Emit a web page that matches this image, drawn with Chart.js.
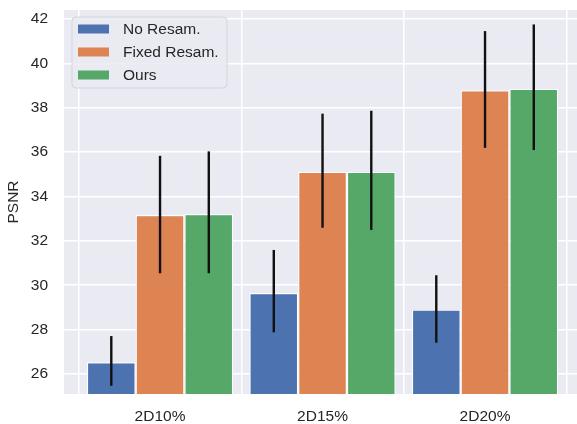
<!DOCTYPE html>
<html>
<head>
<meta charset="utf-8">
<style>
  html, body { margin: 0; padding: 0; background: #ffffff; }
  canvas { display: block; }
</style>
<script src="https://cdn.jsdelivr.net/npm/chart.js@4/dist/chart.umd.min.js"></script>
</head>
<body>
<canvas id="chart" width="577" height="424"></canvas>
<script>
// Categories along the x axis
const categories = ['2D10%', '2D15%', '2D20%'];

// Series names and colours
const seriesNames = ['No Resam.', 'Fixed Resam.', 'Ours'];
const seriesColors = ['#4C72B0', '#DD8452', '#55A868'];

// Mean PSNR per category
const noResamMean = [26.53, 29.65, 28.90];
const fixedResamMean = [33.16, 35.11, 38.78];
const oursMean = [33.21, 35.11, 38.85];

// Error bar extents (lower / upper)
const noResamLow = [25.47, 27.88, 27.41];
const noResamHigh = [27.71, 31.59, 30.45];
const fixedResamLow = [30.54, 32.59, 36.19];
const fixedResamHigh = [35.83, 37.73, 41.45];
const oursLow = [30.54, 32.49, 36.09];
const oursHigh = [36.03, 37.86, 41.75];

// Y tick values
const yTicks = [26, 28, 30, 32, 34, 36, 38, 40, 42];

const FONT = '"Liberation Sans", Arial, Helvetica, sans-serif';
const TEXT = '#262626';
const PANEL = '#EAEAF2';

const means = [noResamMean, fixedResamMean, oursMean];
const lows = [noResamLow, fixedResamLow, oursLow];
const highs = [noResamHigh, fixedResamHigh, oursHigh];

const datasets = seriesNames.map((name, s) => ({
  label: name,
  data: means[s].map((v, i) => ({ x: i, y: v })),
  low: lows[s],
  high: highs[s],
  backgroundColor: seriesColors[s],
  borderColor: '#ffffff',
  borderWidth: 1.2,
  borderSkipped: 'start',
  categoryPercentage: 0.9,
  barPercentage: 1.0
}));

// Grey plotting panel behind grid and bars
const panelBackground = {
  id: 'panelBackground',
  beforeDraw(chart) {
    const { ctx, chartArea: a } = chart;
    ctx.save();
    ctx.fillStyle = PANEL;
    ctx.fillRect(a.left, a.top, a.right - a.left, a.bottom - a.top);
    ctx.restore();
  }
};

// Vertical error bars at each bar centre
const errorBars = {
  id: 'errorBars',
  afterDatasetsDraw(chart) {
    const { ctx } = chart;
    const yScale = chart.scales.y;
    ctx.save();
    ctx.strokeStyle = '#111111';
    ctx.lineWidth = 2.4;
    ctx.lineCap = 'butt';
    chart.data.datasets.forEach((ds, s) => {
      const meta = chart.getDatasetMeta(s);
      meta.data.forEach((bar, i) => {
        const y1 = yScale.getPixelForValue(ds.low[i]);
        const y2 = yScale.getPixelForValue(ds.high[i]);
        ctx.beginPath();
        ctx.moveTo(bar.x, y1);
        ctx.lineTo(bar.x, y2);
        ctx.stroke();
      });
    });
    ctx.restore();
  }
};

// Legend box in the upper-left corner of the panel
const insetLegend = {
  id: 'insetLegend',
  afterDraw(chart) {
    const { ctx, chartArea: a } = chart;
    const x0 = a.left + 8, y0 = a.top + 7;
    const w = 155, h = 71;
    ctx.save();
    ctx.beginPath();
    ctx.roundRect(x0, y0, w, h, 4);
    ctx.fillStyle = 'rgba(234,234,242,0.85)';
    ctx.fill();
    ctx.strokeStyle = '#d4d4dc';
    ctx.lineWidth = 1;
    ctx.stroke();
    ctx.font = '15.5px ' + FONT;
    ctx.textBaseline = 'middle';
    ctx.fillStyle = TEXT;
    chart.data.datasets.forEach((ds, s) => {
      const cy = y0 + 12 + s * 23;
      ctx.fillStyle = ds.backgroundColor;
      ctx.fillRect(x0 + 6, cy - 4.5, 31, 9);
      ctx.fillStyle = TEXT;
      ctx.fillText(ds.label, x0 + 51, cy + 1);
    });
    ctx.restore();
  }
};

new Chart(document.getElementById('chart'), {
  type: 'bar',
  data: { datasets },
  plugins: [panelBackground, errorBars, insetLegend],
  options: {
    responsive: false,
    animation: false,
    layout: { padding: { top: 10, right: 0, bottom: 0, left: 0 } },
    plugins: {
      legend: { display: false },
      tooltip: { enabled: false },
      title: { display: false }
    },
    scales: {
      x: {
        type: 'linear',
        offset: false,
        min: -0.591,
        max: 2.566,
        afterBuildTicks(scale) {
          scale.ticks = categories.map((_, i) => ({ value: i }));
        },
        afterFit(scale) {
          scale.height = 30;
          scale.paddingLeft = 0;
          scale.paddingRight = 0;
        },
        ticks: {
          callback: (v) => categories[v],
          font: { family: FONT, size: 15.5 },
          color: TEXT,
          padding: 13,
          maxRotation: 0
        },
        grid: { color: '#ffffff', lineWidth: 1.5, drawTicks: false },
        border: { display: false }
      },
      y: {
        min: 25.1,
        max: 42.4,
        afterBuildTicks(scale) {
          scale.ticks = yTicks.map(v => ({ value: v }));
        },
        afterFit(scale) {
          scale.width = 64;
          scale.paddingTop = 0;
          scale.paddingBottom = 0;
        },
        ticks: {
          font: { family: FONT, size: 15.5 },
          color: TEXT,
          padding: 16
        },
        grid: { color: '#ffffff', lineWidth: 1.5, drawTicks: false },
        border: { display: false },
        title: {
          display: true,
          text: 'PSNR',
          font: { family: FONT, size: 15.5 },
          color: TEXT,
          padding: { top: 4, bottom: 0 }
        }
      }
    }
  }
});
</script>
</body>
</html>
